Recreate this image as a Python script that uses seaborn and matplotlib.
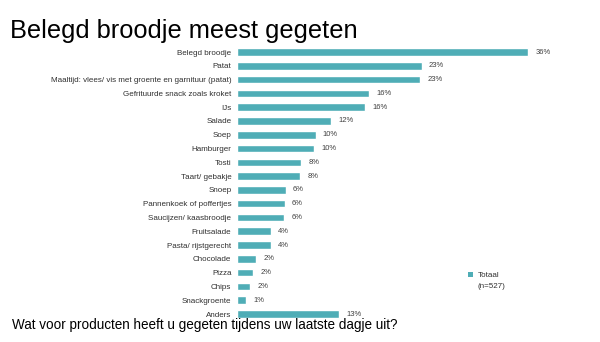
import matplotlib
matplotlib.use("Agg")
import matplotlib.pyplot as plt
import seaborn as sns
import pandas as pd
from matplotlib.patches import Patch

categories = [
    "Belegd broodje", "Patat", "Maaltijd: vlees/ vis met groente en garnituur (patat)",
    "Gefrituurde snack zoals kroket", "IJs", "Salade", "Soep", "Hamburger", "Tosti",
    "Taart/ gebakje", "Snoep", "Pannenkoek of poffertjes", "Saucijzen/ kaasbroodje",
    "Fruitsalade", "Pasta/ rijstgerecht", "Chocolade", "Pizza", "Chips",
    "Snackgroente", "Anders",
]
values = [36.0, 22.8, 22.6, 16.3, 15.8, 11.6, 9.7, 9.5, 7.9, 7.8,
          6.0, 5.9, 5.8, 4.2, 4.2, 2.4, 2.0, 1.6, 1.1, 12.6]
series_name = "Totaal"
n_label = "(n=527)"
title = "Belegd broodje meest gegeten"
question = "Wat voor producten heeft u gegeten tijdens uw laatste dagje uit?"

color = "#4FADB6"
sns.set_theme(style="white")
plt.rcParams["font.family"] = ["Liberation Sans", "DejaVu Sans"]

df = pd.DataFrame({"cat": categories, "val": values})

fig = plt.figure(figsize=(6, 3.42), dpi=100)
ax = fig.add_axes([0.395, 0.0617, 0.56, 0.8063])
sns.barplot(data=df, x="val", y="cat", color=color, width=0.55, ax=ax,
            saturation=1, orient="h")
ax.set_xlim(0, 41.5)
ax.set_ylim(len(categories) - 0.5, -0.5)
for i, v in enumerate(values):
    ax.text(v + 0.9, i, f"{int(round(v))}%", va="center", ha="left",
            fontsize=5.5, color="#404040")
ax.set_xlabel("")
ax.set_ylabel("")
ax.set_xticks([])
ax.tick_params(axis="y", length=0, pad=4, labelsize=5.8, labelcolor="#303030")
for s in ax.spines.values():
    s.set_visible(False)

fig.legend(handles=[Patch(facecolor=color, edgecolor="none"),
                    Patch(facecolor="none", edgecolor="none")],
           labels=[series_name, n_label], loc="upper left",
           bbox_to_anchor=(0.768, 0.227), frameon=False, fontsize=5.8,
           handlelength=0.6, handleheight=0.6, handletextpad=0.6,
           labelspacing=0.5, labelcolor="#303030")

fig.text(0.017, 0.91, title, fontsize=18.3, color="black", ha="left", va="center")
fig.text(0.02, 0.049, question, fontsize=9.75, color="black", ha="left", va="center")

fig.savefig("out.png", dpi=100)
